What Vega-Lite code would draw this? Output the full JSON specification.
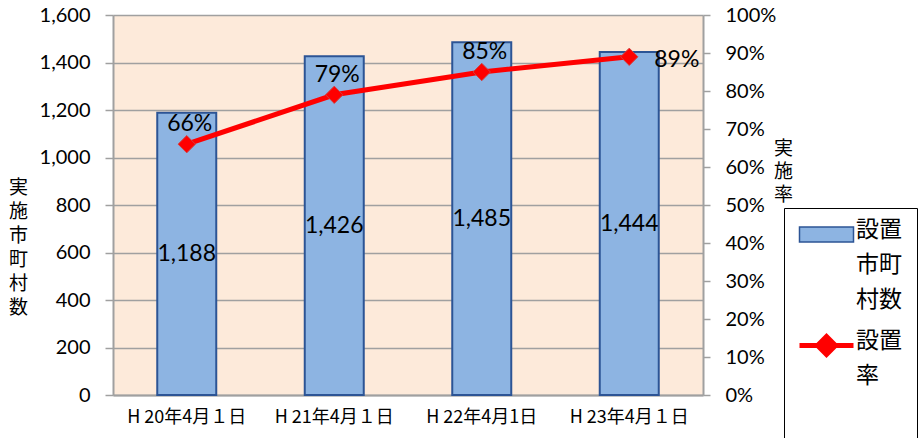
{
  "$schema": "https://vega.github.io/schema/vega-lite/v6.json",
  "width": 590,
  "height": 380,
  "autosize": {"type": "none"},
  "padding": {"left": 113, "top": 15, "right": 219, "bottom": 43},
  "background": "white",
  "config": {
    "view": {"fill": "#FDEADA", "stroke": null},
    "font": "Lato",
    "axis": {"labelColor": "black", "titleColor": "black", "titleFontWeight": "normal"}
  },
  "data": {
    "values": [
      {"date": "H 20年4月１日", "count": 1188, "rate": 0.66},
      {"date": "H 21年4月１日", "count": 1426, "rate": 0.79},
      {"date": "H 22年4月1日", "count": 1485, "rate": 0.85},
      {"date": "H 23年4月１日", "count": 1444, "rate": 0.89}
    ]
  },
  "layer": [
    {
      "mark": {"type": "bar", "stroke": "#2C5495", "strokeWidth": 2},
      "encoding": {
        "x": {
          "field": "date", "type": "nominal", "sort": null, "title": null,
          "scale": {"paddingInner": 0.6, "paddingOuter": 0.3},
          "axis": {
            "labelAngle": 0, "labelFont": "Noto Sans CJK JP", "labelFontSize": 18,
            "ticks": false, "tickSize": 0, "labelPadding": 13,
            "domainColor": "#A0A0A0", "domainWidth": 2
          }
        },
        "y": {
          "field": "count", "type": "quantitative",
          "scale": {"domain": [0, 1600], "nice": false},
          "axis": {
            "orient": "left",
            "values": [0, 200, 400, 600, 800, 1000, 1200, 1400, 1600],
            "format": ",d", "labelFontSize": 20, "labelFont": "Lato",
            "grid": true, "gridColor": "#A0A0A0", "gridWidth": 1.5,
            "domainColor": "#A0A0A0", "domainWidth": 2,
            "tickColor": "#A0A0A0", "tickSize": 8, "tickWidth": 1.5,
            "labelPadding": 15,
            "title": ["実", "施", "市", "町", "村", "数"],
            "titleAngle": 0, "titleFont": "Noto Sans CJK JP", "titleFontSize": 19,
            "titleLineHeight": 24, "titleX": -95, "titleY": 172,
            "titleAlign": "center", "titleBaseline": "middle"
          }
        },
        "color": {
          "datum": "設置市町村数",
          "scale": {"domain": ["設置市町村数", "設置率"], "range": ["#8DB4E2", "#FF0000"]},
          "legend": {
            "title": null,
            "orient": "none", "legendX": 671, "legendY": 193,
            "strokeColor": "black", "fillColor": "white", "padding": 15,
            "symbolSize": 2916, "symbolStrokeWidth": 2, "symbolOffset": 16,
            "labelFont": "Noto Sans CJK JP", "labelFontSize": 23,
            "labelBaseline": "top",
            "labelColor": "black", "labelOffset": 18, "rowPadding": 14,
            "labelExpr": "datum.label === '設置率' ? ['設置', '率'] : ['設置', '市町', '村数']",
            "encoding": {
              "labels": {
                "lineHeight": {"value": 35},
                "dy": {"value": -16}
              },
              "symbols": {
                "shape": {"value": {"expr": "datum.value === '設置率' ? 'M-1,0H1M-0.33,0L0,-0.33L0.33,0L0,0.33ZM0,2.5' : 'M-1,-0.28H1V0.28H-1Z'"}},
                "stroke": {"value": {"expr": "datum.value === '設置率' ? '#FF0000' : '#2C5495'"}},
                "strokeWidth": {"value": {"expr": "datum.value === '設置率' ? 5 : 1.5"}},
                "fill": {"value": {"expr": "datum.value === '設置率' ? '#FF0000' : '#8DB4E2'"}}
              }
            }
          }
        }
      }
    },
    {
      "mark": {"type": "text", "fontSize": 23, "font": "Lato", "color": "black", "baseline": "middle"},
      "encoding": {
        "x": {"field": "date", "type": "nominal", "sort": null, "title": null},
        "y": {"field": "count", "type": "quantitative", "scale": {"domain": [0, 3200], "nice": false}, "axis": null},
        "text": {"field": "count", "type": "quantitative", "format": ","}
      }
    },
    {
      "mark": {"type": "line", "color": "#FF0000", "strokeWidth": 5},
      "encoding": {
        "x": {"field": "date", "type": "nominal", "sort": null, "title": null},
        "y": {
          "field": "rate", "type": "quantitative",
          "scale": {"domain": [0, 1], "nice": false},
          "axis": {
            "orient": "right",
            "values": [0, 0.1, 0.2, 0.3, 0.4, 0.5, 0.6, 0.7, 0.8, 0.9, 1],
            "format": ".0%", "labelFontSize": 20, "labelFont": "Lato",
            "labelOverlap": false,
            "grid": false,
            "domainColor": "#A0A0A0", "domainWidth": 2,
            "tickColor": "#A0A0A0", "tickSize": 7, "tickWidth": 1.5,
            "labelPadding": 15,
            "title": ["実", "施", "率"],
            "titleAngle": 0, "titleFont": "Noto Sans CJK JP", "titleFontSize": 19,
            "titleLineHeight": 23, "titleX": 80, "titleY": 133,
            "titleAlign": "center", "titleBaseline": "middle"
          }
        }
      }
    },
    {
      "mark": {"type": "point", "shape": "diamond", "filled": true, "size": 300, "fill": "#FF0000", "stroke": "#D04040", "strokeWidth": 1, "opacity": 1},
      "encoding": {
        "x": {"field": "date", "type": "nominal", "sort": null, "title": null},
        "y": {"field": "rate", "type": "quantitative", "scale": {"domain": [0, 1], "nice": false}, "axis": null}
      }
    },
    {
      "transform": [{"filter": "datum.rate < 0.89"}],
      "mark": {"type": "text", "fontSize": 23, "font": "Lato", "color": "black", "baseline": "middle", "dy": -20, "dx": 3},
      "encoding": {
        "x": {"field": "date", "type": "nominal", "sort": null, "title": null},
        "y": {"field": "rate", "type": "quantitative", "scale": {"domain": [0, 1], "nice": false}, "axis": null},
        "text": {"field": "rate", "type": "quantitative", "format": ".0%"}
      }
    },
    {
      "transform": [{"filter": "datum.rate >= 0.89"}],
      "mark": {"type": "text", "fontSize": 23, "font": "Lato", "color": "black", "baseline": "middle", "align": "left", "dx": 25, "dy": 3},
      "encoding": {
        "x": {"field": "date", "type": "nominal", "sort": null, "title": null},
        "y": {"field": "rate", "type": "quantitative", "scale": {"domain": [0, 1], "nice": false}, "axis": null},
        "text": {"field": "rate", "type": "quantitative", "format": ".0%"}
      }
    }
  ],
  "resolve": {"scale": {"y": "independent"}}
}
